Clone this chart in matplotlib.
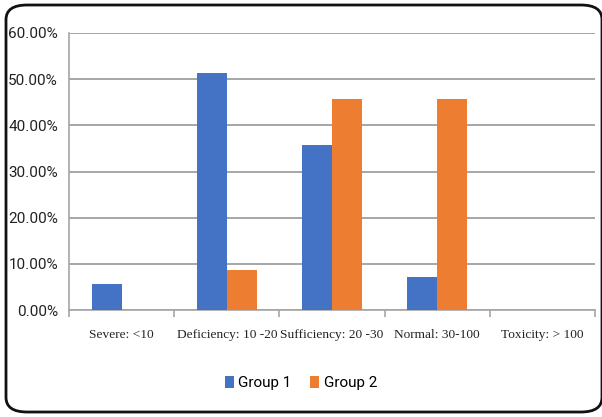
import matplotlib.pyplot as plt
import numpy as np
from matplotlib.patches import FancyBboxPatch
from matplotlib.ticker import PercentFormatter, FixedLocator

categories = ["Severe: <10", "Deficiency: 10 -20", "Sufficiency: 20 -30",
              "Normal: 30-100", "Toxicity: > 100"]
group1 = [5.71, 51.43, 35.71, 7.14, 0.0]
group2 = [0.0, 8.57, 45.71, 45.71, 0.0]
series_names = ["Group 1", "Group 2"]
yticks = [0, 10, 20, 30, 40, 50, 60]

blue = "#4472C4"
orange = "#ED7D31"
grid_col = "#A6A6A6"
sans = "Roboto"

fig = plt.figure(figsize=(6.02, 4.17), dpi=100)
ax = fig.add_axes([69 / 602, 1 - 310 / 417, 526 / 602, 277 / 417])

x = np.arange(len(categories))
w = 0.285
ax.bar(x - w / 2, group1, w, color=blue, label=series_names[0], zorder=3)
ax.bar(x + w / 2, group2, w, color=orange, label=series_names[1], zorder=3)

ax.set_xlim(-0.5, len(categories) - 0.5)
ax.set_ylim(0, 60)
ax.yaxis.set_major_locator(FixedLocator(yticks))
ax.yaxis.set_major_formatter(PercentFormatter(decimals=2))
ax.grid(axis="y", color=grid_col, linewidth=1.4, zorder=0)

for side in ("top", "right"):
    ax.spines[side].set_visible(False)
for side in ("left", "bottom"):
    ax.spines[side].set_color(grid_col)
    ax.spines[side].set_linewidth(1.2)

ax.tick_params(axis="y", length=0, pad=8)
for lbl in ax.get_yticklabels():
    lbl.set_fontfamily(sans)
    lbl.set_fontsize(11)
    lbl.set_color("#222222")

# category labels sit between the boundary ticks
ax.set_xticks(np.arange(len(categories) + 1) - 0.5)
ax.set_xticklabels([])
ax.tick_params(axis="x", length=5, color=grid_col, width=1.2)
ax.set_xticks(x, minor=True)
ax.set_xticklabels(categories, minor=True, fontfamily="Liberation Serif",
                   fontsize=9.6, color="#222222")
ax.tick_params(axis="x", which="minor", length=0, pad=14)

fig.legend(loc="center", bbox_to_anchor=(0.5, 1 - 383 / 417), ncol=2,
           frameon=False, handlelength=0.6, handleheight=0.9,
           handletextpad=0.3, columnspacing=1.2,
           prop={"family": sans, "size": 11})

border = FancyBboxPatch((6 / 602, 5 / 417), 596 / 602, 407 / 417,
                        boxstyle="round,pad=0,rounding_size=0.035",
                        transform=fig.transFigure, fill=False,
                        edgecolor="#111111", linewidth=2, clip_on=False)
fig.patches.append(border)

fig.savefig("out.png", dpi=100)
